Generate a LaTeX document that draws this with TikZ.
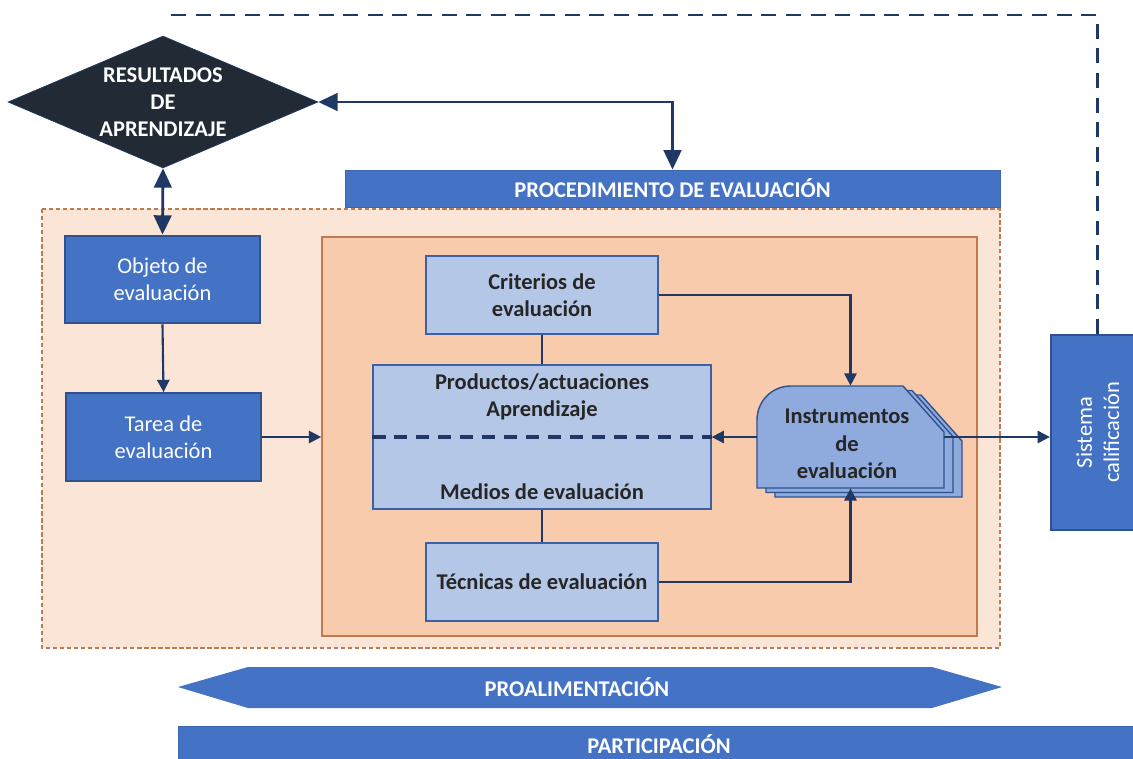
\documentclass[tikz,border=0pt]{standalone}
\usepackage{fontspec}
\setmainfont{Carlito}
\usetikzlibrary{shapes.geometric,arrows.meta}

\definecolor{boxblue}{HTML}{4472C4}
\definecolor{boxedge}{HTML}{2F528F}
\definecolor{navy}{HTML}{203864}
\definecolor{lightblue}{HTML}{B4C7E7}
\definecolor{docblue}{HTML}{8FAADC}
\definecolor{peach}{HTML}{F8CBAD}
\definecolor{paleorange}{HTML}{FBE5D6}
\definecolor{brownedge}{HTML}{BF7B4E}
\definecolor{darkgoal}{HTML}{222A35}
\definecolor{inktext}{HTML}{262626}

\newcommand{\diagfont}{\fontsize{12.8}{15.5}\selectfont}

\tikzset{
  outerpanel/.style={fill=paleorange, draw=brownedge, line width=0.9pt, dash pattern=on 2.5pt off 1.5pt},
  innerpanel/.style={fill=peach, draw=brownedge, line width=1pt},
  goal/.style={diamond, aspect=2.35, fill=darkgoal, draw=navy, inner sep=0pt, minimum width=6.2cm, minimum height=2.64cm, text=white, font=\diagfont\bfseries, align=center},
  bar/.style={fill=boxblue, draw=boxblue!90!black, line width=0.5pt, text=white, font=\diagfont\bfseries},
  bluebox/.style={fill=boxblue, draw=boxedge, line width=1.3pt, text=white, align=center, minimum width=3.9cm, minimum height=1.75cm},
  lightbox/.style={fill=lightblue, draw=boxblue!85!black, line width=0.8pt, text=inktext, font=\diagfont\bfseries, align=center, minimum width=4.64cm, minimum height=1.56cm},
  darktext/.style={text=inktext, font=\diagfont\bfseries, align=center},
  docshape/.style={fill=docblue, draw=boxedge, line width=0.8pt},
  twoway/.style={navy, line width=1.6pt, {Triangle[length=11pt,width=10pt]}-{Triangle[length=11pt,width=10pt]}},
  flow/.style={navy, line width=1.2pt, -{Triangle[length=7pt,width=7pt]}},
  joinline/.style={navy, line width=1.2pt},
  loopline/.style={navy, line width=1.7pt, dash pattern=on 8.5pt off 5.5pt}
}

\begin{document}
\begin{tikzpicture}[x=0.02cm, y=-0.02cm, font=\diagfont]
  \useasboundingbox (0,0) rectangle (1133,758);
  % Background panels
  \draw[outerpanel] (42,209) rectangle (1000,648);
  \node[innerpanel, minimum width=13.1cm, minimum height=7.98cm] (inner) at (649.5,436.5) {};
  % Top row
  \node[goal] (res) at (163,102) {RESULTADOS\\DE\\APRENDIZAJE};
  \node[bar, minimum width=13.1cm, minimum height=0.74cm] (proc) at (672.5,188.5) {PROCEDIMIENTO DE EVALUACIÓN};
  % Left column
  \node[bluebox] (objeto) at (162.5,279.5) {Objeto de\\evaluación};
  \node[bluebox] (tarea) at (163.5,437) {Tarea de\\evaluación};
  % Middle column
  \node[lightbox] (crit) at (542,295) {Criterios de\\evaluación};
  \node[lightbox, minimum width=6.76cm, minimum height=2.88cm] (prod) at (542,437) {};
  \draw[navy, line width=2pt, dash pattern=on 7.5pt off 5pt] (prod.west) -- (prod.east);
  \node[darktext] (prodtop) at (542,397) {Productos/actuaciones\\Aprendizaje};
  \node[darktext] (prodbot) at (542,492) {Medios de evaluación};
  \node[lightbox] (tec) at (542,582) {Técnicas de evaluación};
  % Instruments: three stacked sheets
  \foreach \d in {18,9,0} {
      \draw[docshape, shift={(\d,\d/2)}] (757,488) -- (757,420)
        .. controls (757,401) and (772,386) .. (791,386)
        -- (903,386) -- (944,432) -- (944,488) -- cycle;
    }
  \node[minimum width=3.74cm, minimum height=2.04cm] (instr) at (850.5,437) {};
  \node[darktext] (instrtext) at (847,444) {Instrumentos\\de\\evaluación};
  % Right column
  \node[bluebox, minimum width=1.96cm, minimum height=3.9cm] (sis) at (1100,432.5)
    {\rotatebox{90}{\begin{tabular}{@{}c@{}}Sistema\\calificación\end{tabular}}};
  % Bottom bars
  \fill[boxblue] (178,687) -- (248,667) -- (932,667) -- (1002,687) -- (932,708) -- (248,708) -- cycle;
  \node[text=white, font=\diagfont\bfseries] (proa) at (577,687) {PROALIMENTACIÓN};
  \node[bar, minimum width=19.24cm, minimum height=0.72cm] (part) at (659,744) {PARTICIPACIÓN};
  % Connectors
  \draw[twoway] (res.east) -| (proc.north);
  \draw[twoway] (res.south) -- (objeto.north);
  \draw[flow] (objeto.south) -- (tarea.north);
  \draw[flow] (tarea.east) -- (tarea.east -| inner.west);
  \draw[joinline] (crit.south) -- (prod.north);
  \draw[joinline] (prod.south) -- (tec.north);
  \draw[flow] (crit.east) -| (instr.north);
  \draw[flow] (tec.east) -| (instr.south);
  \draw[flow] (instr.west) -- (prod.east);
  \draw[flow] (instr.east) -- (instr.east -| sis.west);
  % Loop back to the top
  \coordinate (loopend) at (163,15);
  \draw[loopline] (sis.north -| 1097,0) |- (loopend);
\end{tikzpicture}
\end{document}
